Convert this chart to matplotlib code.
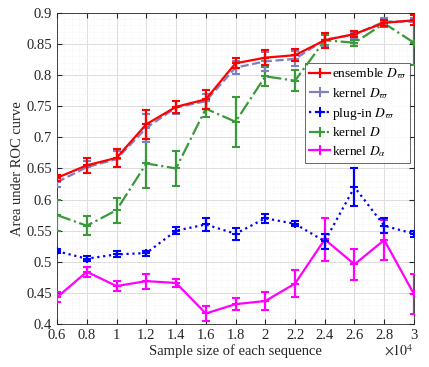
import matplotlib
matplotlib.use("Agg")
import matplotlib.pyplot as plt
from matplotlib.lines import Line2D
from matplotlib.ticker import MultipleLocator, FuncFormatter, AutoMinorLocator

plt.rcParams['font.family'] = ['Liberation Serif', 'DejaVu Serif']
plt.rcParams['mathtext.fontset'] = 'stix'

sample_size = [0.6, 0.8, 1.0, 1.2, 1.4, 1.6, 1.8, 2.0, 2.2, 2.4, 2.6, 2.8, 3.0]

ensemble_mean = [0.635, 0.655, 0.667, 0.721, 0.749, 0.761, 0.819, 0.828, 0.832, 0.856, 0.866, 0.884, 0.888]
ensemble_err = [0.005, 0.012, 0.015, 0.023, 0.01, 0.015, 0.008, 0.012, 0.01, 0.012, 0.005, 0.005, 0.008]

kernel_w_mean = [0.628, 0.652, 0.665, 0.715, 0.748, 0.758, 0.812, 0.822, 0.826, 0.857, 0.865, 0.886, 0.886]
kernel_w_err = [0.008, 0.01, 0.013, 0.022, 0.01, 0.012, 0.01, 0.015, 0.012, 0.01, 0.005, 0.005, 0.005]

plugin_mean = [0.517, 0.505, 0.512, 0.514, 0.550, 0.560, 0.545, 0.570, 0.561, 0.533, 0.620, 0.558, 0.545]
plugin_err = [0.003, 0.004, 0.005, 0.004, 0.006, 0.01, 0.01, 0.007, 0.004, 0.012, 0.03, 0.012, 0.005]

kernel_d_mean = [0.575, 0.558, 0.583, 0.658, 0.650, 0.746, 0.725, 0.798, 0.791, 0.856, 0.852, 0.883, 0.852]
kernel_d_err = [0.025, 0.015, 0.02, 0.04, 0.028, 0.013, 0.04, 0.015, 0.017, 0.008, 0.005, 0.005, 0.035]

kernel_a_mean = [0.443, 0.484, 0.461, 0.469, 0.466, 0.417, 0.432, 0.437, 0.465, 0.536, 0.496, 0.535, 0.448]
kernel_a_err = [0.008, 0.008, 0.008, 0.012, 0.006, 0.012, 0.01, 0.015, 0.022, 0.035, 0.025, 0.032, 0.032]

labels = [r'ensemble $D_{\varpi}$', r'kernel $D_{\varpi}$', r'plug-in $D_{\varpi}$',
          r'kernel $D$', r'kernel $D_{\alpha}$']

fig = plt.figure(figsize=(4.29, 3.67), dpi=100)
ax = fig.add_axes([0.133, 0.117, 0.832, 0.848])

series = [
    (ensemble_mean, ensemble_err, '#ff0000', '-'),
    (kernel_w_mean, kernel_w_err, '#8080c0', '--'),
    (plugin_mean, plugin_err, '#0000ff', ':'),
    (kernel_d_mean, kernel_d_err, '#3a993a', '-.'),
    (kernel_a_mean, kernel_a_err, '#ff00ff', '-'),
]
order = [3, 4, 2, 1, 0]
for i in order:
    m, e, c, ls = series[i]
    ax.errorbar(sample_size, m, yerr=e, color=c, ls=ls, lw=1.6,
                marker='+', ms=6, mew=1.5, capsize=3, elinewidth=1.6,
                capthick=1.6, zorder=3 + (5 - i))

handles = [Line2D([], [], color=c, ls=ls, lw=1.6, marker='+', ms=7, mew=1.5)
           for (m, e, c, ls) in series]

ax.set_xlim(0.6, 3.0)
ax.set_ylim(0.4, 0.9)
ax.xaxis.set_major_locator(MultipleLocator(0.2))
ax.yaxis.set_major_locator(MultipleLocator(0.05))
ax.xaxis.set_minor_locator(AutoMinorLocator(4))
ax.yaxis.set_minor_locator(AutoMinorLocator(5))
ax.xaxis.set_major_formatter(FuncFormatter(lambda v, p: '%g' % round(v, 2)))
ax.yaxis.set_major_formatter(FuncFormatter(lambda v, p: '%g' % round(v, 2)))

ax.grid(True, which='major', color='#dddddd', lw=0.7)
ax.grid(True, which='minor', color='#eeeeee', lw=0.5, ls=':')
ax.set_axisbelow(True)
ax.tick_params(which='both', direction='in', top=True, right=True, labelsize=10.5,
               color='#262626', labelcolor='#262626')
ax.tick_params(which='minor', length=0)
for s in ax.spines.values():
    s.set_color('#262626')
    s.set_linewidth(0.6)

ax.set_xlabel('Sample size of each sequence', fontsize=10.5, color='#262626', labelpad=2)
ax.set_ylabel('Area under ROC curve', fontsize=10.5, color='#262626', labelpad=2)
ax.text(1.0, -0.062, r'$\times 10^4$', transform=ax.transAxes, ha='right', va='top',
        fontsize=10, color='#262626')

leg = ax.legend(handles, labels, loc='upper right',
                bbox_to_anchor=(0.99, 0.84), fontsize=9.7, frameon=True, fancybox=False,
                edgecolor='#262626', handlelength=1.6, handletextpad=0.15,
                borderpad=0.3, labelspacing=0.35, borderaxespad=0)
leg.get_frame().set_linewidth(0.6)

fig.savefig('out.png', dpi=100)
